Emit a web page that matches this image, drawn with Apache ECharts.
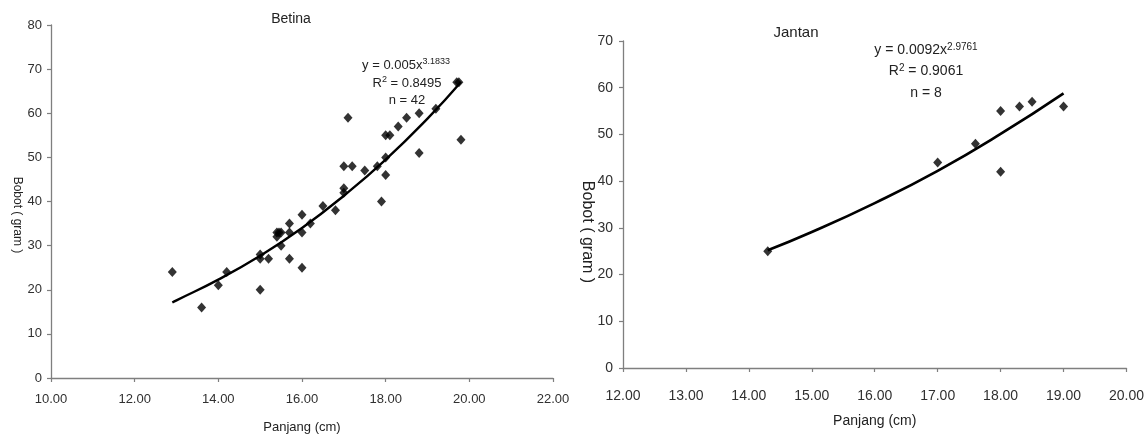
<!DOCTYPE html>
<html>
<head>
<meta charset="utf-8">
<title>Panjang - Bobot</title>
<script src="https://cdn.jsdelivr.net/npm/echarts@6/dist/echarts.min.js"></script>
<style>
  html, body { margin: 0; padding: 0; background: #fff; }
  #chart { width: 1147px; height: 439px; }
</style>
</head>
<body>
<div id="chart"></div>
<script>
// Betina (n = 42)
const betinaPanjang = [12.9, 13.6, 14.0, 14.2, 15.0, 15.0, 15.0, 15.2, 15.4, 15.4, 15.45, 15.5, 15.5,
  15.7, 15.7, 15.7, 16.0, 16.0, 16.0, 16.2, 16.5, 16.8, 17.0, 17.0, 17.0, 17.1, 17.2, 17.5,
  17.8, 17.9, 18.0, 18.0, 18.0, 18.1, 18.3, 18.5, 18.8, 18.8, 19.2, 19.7, 19.75, 19.8]
const betinaBobot = [24, 16, 21, 24, 28, 27, 20, 27, 32, 33, 33, 33, 30,
  35, 33, 27, 37, 33, 25, 35, 39, 38, 43, 42, 48, 59, 48, 47,
  48, 40, 46, 50, 55, 55, 57, 59, 60, 51, 61, 67, 67, 54]
// garis tren betina
const betinaTrendX = [12.9, 13, 14, 15, 16, 17, 18, 19, 19.8]
const betinaTrendY = [17.1, 17.6, 22.3, 27.7, 34.0, 41.3, 49.5, 58.8, 67.1]

// Jantan (n = 8)
const jantanPanjang = [14.3, 17.0, 17.6, 18.0, 18.0, 18.3, 18.5, 19.0]
const jantanBobot = [25, 44, 48, 55, 42, 56, 57, 56]
const jantanTrendX = [14.3, 15, 16, 17, 18, 19]
const jantanTrendY = [25.2, 29.1, 35.3, 42.2, 50.1, 58.8]

// axis ranges
const betinaX = { min: 10, max: 22, interval: 2 }
const betinaY = { min: 0, max: 80, interval: 10 }
const jantanX = { min: 12, max: 20, interval: 1 }
const jantanY = { min: 0, max: 70, interval: 10 }

const FONT = '"Liberation Sans", Arial, sans-serif'
const zip = (xs, ys) => xs.map((x, i) => [x, ys[i]])

const chart = echarts.init(document.getElementById('chart'))

const axisCommon = {
  axisLine: { show: true, lineStyle: { color: '#7f7f7f', width: 1.3 } },
  axisTick: { show: true, length: 4, lineStyle: { color: '#7f7f7f', width: 1.2 } },
  splitLine: { show: false }
}

const xAxisOf = (r, idx, margin, size) => ({
  type: 'value', gridIndex: idx, min: r.min, max: r.max, interval: r.interval,
  ...axisCommon,
  axisLabel: { color: '#303030', fontSize: size, fontFamily: FONT, margin: margin,
    formatter: v => v.toFixed(2) }
})
const yAxisOf = (r, idx, margin, size) => ({
  type: 'value', gridIndex: idx, min: r.min, max: r.max, interval: r.interval,
  ...axisCommon,
  axisLabel: { color: '#303030', fontSize: size, fontFamily: FONT, margin: margin }
})

const eqRich = (size) => ({
  sup: { fontSize: size - 4, color: '#555', fontFamily: FONT, verticalAlign: 'top', padding: [0, 0, 6, 0] },
  t: { fontSize: size, color: '#222', fontFamily: FONT }
})

const txt = (x, y, text, size, extra) => ({
  type: 'text', x: x, y: y,
  style: Object.assign({ text: text, fontSize: size, fontFamily: FONT, fill: '#222',
    align: 'center', verticalAlign: 'middle' }, extra || {})
})

const option = {
  animation: false,
  grid: [
    { left: 51, top: 25, width: 502, height: 353 },
    { left: 623, top: 41, width: 504, height: 327 }
  ],
  xAxis: [
    Object.assign(xAxisOf(betinaX, 0, 15, 13), {
      name: 'Panjang (cm)', nameLocation: 'middle', nameGap: 43,
      nameTextStyle: { color: '#222', fontSize: 13, fontFamily: FONT }
    }),
    Object.assign(xAxisOf(jantanX, 1, 21, 14), {
      name: 'Panjang (cm)', nameLocation: 'middle', nameGap: 46,
      nameTextStyle: { color: '#222', fontSize: 14, fontFamily: FONT }
    })
  ],
  yAxis: [
    yAxisOf(betinaY, 0, 9, 13),
    yAxisOf(jantanY, 1, 10, 14)
  ],
  graphic: [
    txt(291, 19, 'Betina', 14),
    txt(796, 33, 'Jantan', 15),
    txt(17, 215, 'Bobot ( gram )', 12, {}),
    txt(587, 232, 'Bobot ( gram )', 16, {}),
    txt(406, 65, '{t|y = 0.005x}{sup|3.1833}', 13, { rich: eqRich(13) }),
    txt(407, 83, '{t|R}{sup|2}{t| = 0.8495}', 13, { rich: eqRich(13) }),
    txt(407, 100, 'n = 42', 13),
    txt(926, 50, '{t|y = 0.0092x}{sup|2.9761}', 14, { rich: eqRich(14) }),
    txt(926, 71, '{t|R}{sup|2}{t| = 0.9061}', 14, { rich: eqRich(14) }),
    txt(926, 93, 'n = 8', 14)
  ].map((g, i) => (i === 2 || i === 3) ? Object.assign(g, { rotation: -Math.PI / 2 }) : g),
  series: [
    {
      type: 'scatter', xAxisIndex: 0, yAxisIndex: 0,
      symbol: 'diamond', symbolSize: [9, 10],
      itemStyle: { color: '#000' },
      data: zip(betinaPanjang, betinaBobot)
    },
    {
      type: 'line', xAxisIndex: 0, yAxisIndex: 0,
      smooth: true, showSymbol: false,
      lineStyle: { color: '#000', width: 2.4 },
      data: zip(betinaTrendX, betinaTrendY)
    },
    {
      type: 'scatter', xAxisIndex: 1, yAxisIndex: 1,
      symbol: 'diamond', symbolSize: [9, 10],
      itemStyle: { color: '#000' },
      data: zip(jantanPanjang, jantanBobot)
    },
    {
      type: 'line', xAxisIndex: 1, yAxisIndex: 1,
      smooth: true, showSymbol: false,
      lineStyle: { color: '#000', width: 2.7 },
      data: zip(jantanTrendX, jantanTrendY)
    }
  ]
}

chart.setOption(option)
window.addEventListener('resize', () => chart.resize())
</script>
</body>
</html>
